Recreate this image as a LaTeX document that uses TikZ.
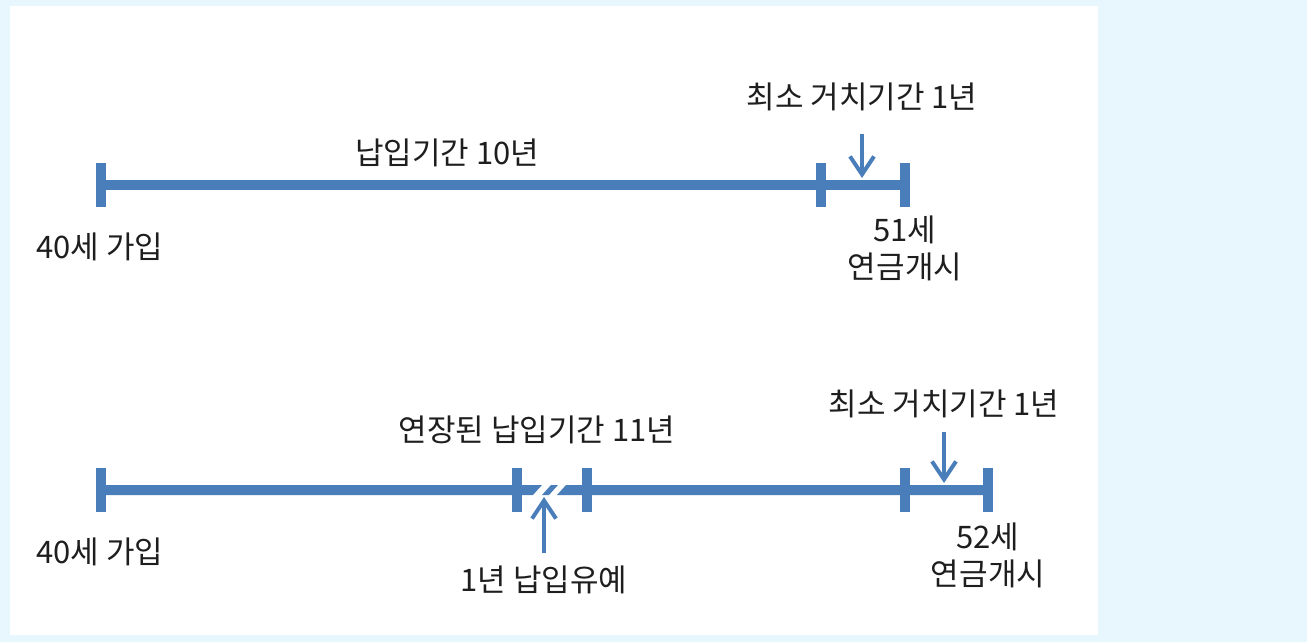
\documentclass[tikz,border=0pt]{standalone}
\usepackage{fontspec}
\setmainfont{Noto Sans CJK KR}
\usetikzlibrary{arrows.meta}
\definecolor{bgblue}{HTML}{E8F6FE}
\definecolor{lineblue}{HTML}{4A7EBB}
\definecolor{txt}{HTML}{1E1E1E}
\tikzset{
  bar/.style={draw=none,fill=lineblue},
  tickmark/.style={lineblue,line width=10pt},
  axisline/.style={lineblue,line width=10pt},
  pointer/.style={lineblue,line width=4pt,-{Straight Barb[length=18pt,width=24pt,line width=4pt]}},
  lbl/.style={text=txt,font=\fontsize{31}{36}\selectfont,inner sep=0pt,align=center}
}
\begin{document}
\begin{tikzpicture}[x=1pt,y=-1pt]
\useasboundingbox (0,0) rectangle (1307,642);
\fill[bgblue] (0,0) rectangle (1307,642);
\fill[white] (10,6) rectangle (1098,635);

% ---- timeline 1 ----
\coordinate (a1) at (101,185);
\coordinate (b1) at (821,185);
\coordinate (c1) at (905,185);
\draw[axisline] (a1) -- (c1);
\foreach \p in {a1,b1,c1} \draw[tickmark] ([yshift=-22pt]\p) -- ([yshift=22pt]\p);
\node[lbl] (t1) at (447,153) {납입기간 10년};
\node[lbl] (m1) at (862,97) {최소 거치기간 1년};
\coordinate (m1s) at (862,134);
\coordinate (m1e) at (862,178);
\draw[pointer] (m1s) -- (m1e);
\node[lbl] (s1) at (100,247) {40세 가입};
\node[lbl] (e1a) at (905,230) {51세};
\node[lbl] (e1b) at (905,267) {연금개시};

% ---- timeline 2 ----
\coordinate (a2) at (101,490);
\coordinate (b2) at (517,490);
\coordinate (c2) at (587,490);
\coordinate (d2) at (905,490);
\coordinate (e2) at (988,490);
\fill[bar] (101,485) -- (542,485) -- (533,495) -- (101,495) -- cycle;
\fill[bar] (551,485) -- (558,485) -- (549,495) -- (542,495) -- cycle;
\fill[bar] (566,485) -- (988,485) -- (988,495) -- (557,495) -- cycle;
\foreach \p in {a2,b2,c2,d2,e2} \draw[tickmark] ([yshift=-22pt]\p) -- ([yshift=22pt]\p);
\node[lbl] (t2) at (537,430) {연장된 납입기간 11년};
\node[lbl] (m2) at (944,404) {최소 거치기간 1년};
\coordinate (m2s) at (944,432);
\coordinate (m2e) at (944,483);
\draw[pointer] (m2s) -- (m2e);
\node[lbl] (s2) at (100,552) {40세 가입};
\node[lbl] (e2a) at (988,537) {52세};
\node[lbl] (e2b) at (988,574) {연금개시};
\node[lbl] (g2) at (544,580) {1년 납입유예};
\coordinate (g2s) at (544,553);
\coordinate (g2e) at (544,497);
\draw[pointer] (g2s) -- (g2e);
\end{tikzpicture}
\end{document}
